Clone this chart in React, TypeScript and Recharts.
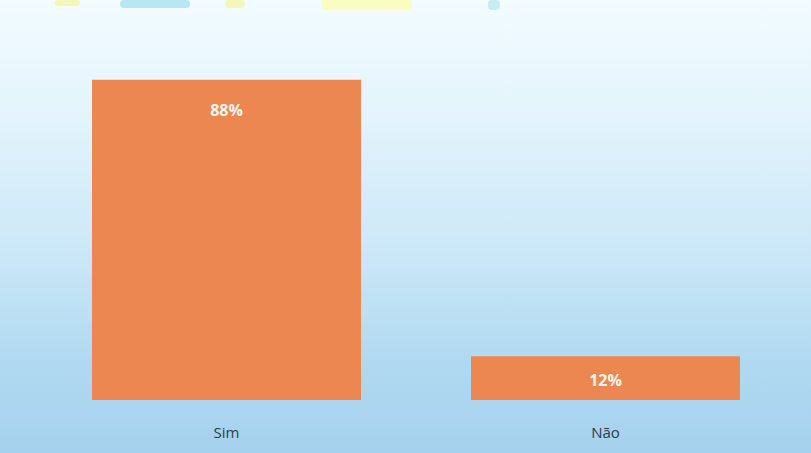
import { BarChart, Bar, XAxis, YAxis, LabelList } from 'recharts';

const categories = ['Sim', 'Não'];
const percentValues = [88, 12];

const data = categories.map((name, i) => ({ name, value: percentValues[i] }));

const renderLabel = (props: any) => {
  const { x, y, width, height, value } = props;
  const cx = x + width / 2;
  // tall bar: near the top, short bar: centred
  const ty = height > 60 ? y + 36 : y + height / 2 + 8;
  return (
    <text x={cx} y={ty} textAnchor="middle" fill="#fff8ee" fontSize={16} fontWeight="bold" fontFamily="Open Sans">
      {value}%
    </text>
  );
};

export default function App() {
  return (
    <div
      style={{
        position: 'fixed',
        left: 0,
        top: 0,
        width: 811,
        height: 453,
        background: 'linear-gradient(180deg, #f3fcff 0%, #e3f4fc 25%, #cce8f7 55%, #b0d9f1 80%, #a6d1ee 100%)',
        overflow: 'hidden',
      }}
    >
      <div style={{ position: 'absolute', left: 55, top: 0, width: 25, height: 6, background: '#f4f7b8', borderRadius: 4 }} />
      <div style={{ position: 'absolute', left: 120, top: 0, width: 70, height: 8, background: '#b8e6f3', borderRadius: 6 }} />
      <div style={{ position: 'absolute', left: 225, top: 0, width: 20, height: 8, background: '#f4f7b8', borderRadius: 4 }} />
      <div style={{ position: 'absolute', left: 322, top: 0, width: 90, height: 10, background: '#fbfcc0', borderRadius: 3 }} />
      <div style={{ position: 'absolute', left: 488, top: 0, width: 12, height: 10, background: '#c8ecf5', borderRadius: 4 }} />
      <BarChart
        width={811}
        height={453}
        data={data}
        margin={{ top: 36, right: 16, left: 37, bottom: 0 }}
        barSize={269}
      >
        <XAxis
          dataKey="name"
          axisLine={false}
          tickLine={false}
          height={53}
          tickMargin={21}
          tick={{ fill: '#2e3b48', fontSize: 15, fontFamily: 'Open Sans' }}
        />
        <YAxis hide domain={[0, 100]} />
        <Bar dataKey="value" fill="#ec8752" isAnimationActive={false}>
          <LabelList dataKey="value" content={renderLabel} />
        </Bar>
      </BarChart>
    </div>
  );
}
